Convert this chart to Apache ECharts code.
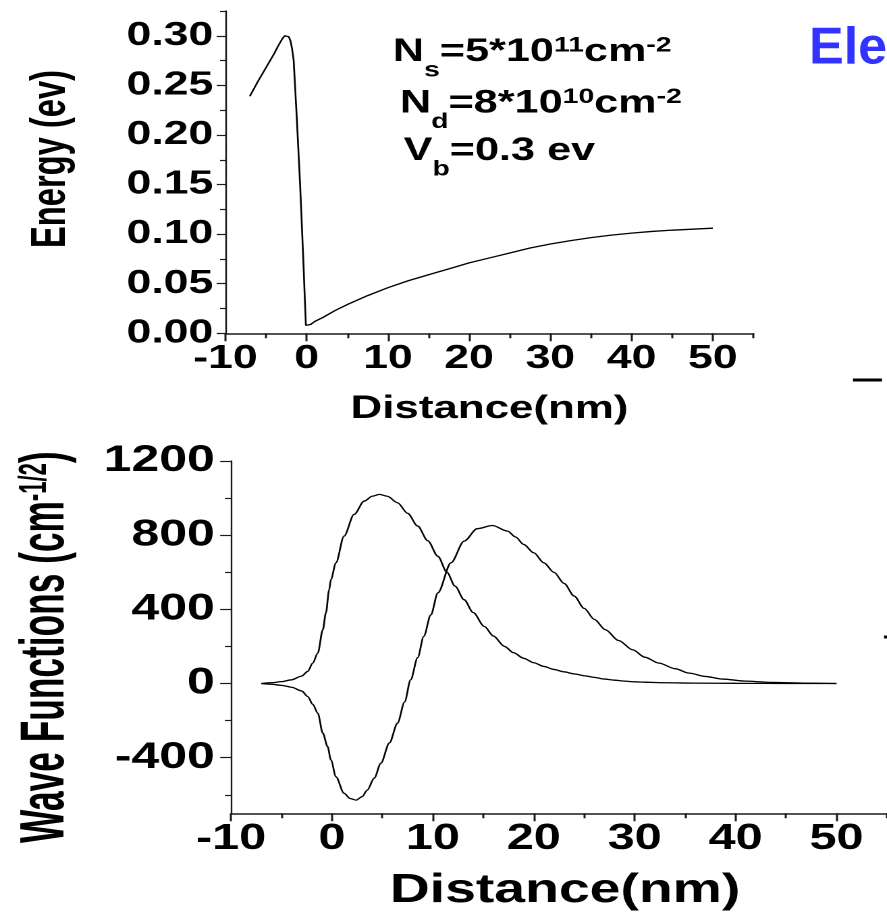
<!DOCTYPE html>
<html>
<head>
<meta charset="utf-8">
<script src="https://cdn.jsdelivr.net/npm/echarts@6/dist/echarts.min.js"></script>
<style>
html, body { margin: 0; padding: 0; background: #fff; overflow: hidden; }
#wrap { width: 887px; height: 915px; overflow: hidden; position: relative; background: #fff; }
/* the figure is drawn in a narrower frame and widened horizontally */
#chart { width: 657px; height: 915px; transform: scaleX(1.35); transform-origin: 0 0; }
</style>
</head>
<body>
<div id="wrap"><div id="chart"></div></div>
<script>
// Conduction-band energy across the barrier: distance (nm), energy (eV)
const energyX = [-7, -6, -5, -4, -3.5, -3, -2.7, -2.45, -2.2, -2.0, -1.8, -1.6, -1.2, -0.8, -0.45, -0.1, 0,
                 0.5, 1, 2, 3.5, 5, 7.5, 10, 12.5, 15, 17.5, 20, 22.5, 25, 27.5, 30, 32.5, 35, 37.5, 40, 42.5, 45, 47.5, 50];
const energyY = [0.239, 0.254, 0.268, 0.282, 0.290, 0.297, 0.300, 0.301, 0.299, 0.295, 0.287, 0.275, 0.214, 0.148, 0.081, 0.008, 0.006,
                 0.009, 0.012, 0.016, 0.023, 0.029, 0.038, 0.046, 0.053, 0.059, 0.065, 0.071, 0.076, 0.081, 0.086, 0.090, 0.0935, 0.0965,
                 0.099, 0.101, 0.1027, 0.104, 0.105, 0.106];

// Ground-state wave function: distance (nm), amplitude (cm^-1/2)
const psi1X = [-7, -6, -5, -4, -3, -2.4, -1.9, -1.4, -0.9, -0.6, -0.27, -0.1, 0.4, 1.2, 2.2, 3.2, 4, 4.7, 5.5, 6.5, 7.5, 8.5, 9.5,
               10.5, 11.4, 12.2, 13.1, 14, 15.1, 16, 17.1, 18, 19, 20, 21, 22, 23, 24, 25, 26, 27, 28, 29, 30, 31, 33, 36, 40, 45, 50];
const psi1Y = [0, 4, 10, 20, 40, 65, 110, 164, 290, 380, 506, 561, 651, 795, 912, 984, 1010, 1020, 1010, 975, 918, 849, 770,
               686, 600, 525, 452, 383, 308, 256, 200, 166, 136, 112, 92, 76, 63, 52, 42, 33, 24, 18, 13, 9, 7, 4, 2, 1, 0.3, 0];

// First excited-state wave function: distance (nm), amplitude (cm^-1/2)
const psi2X = [-7, -6, -5, -4, -3, -2.4, -1.9, -1.4, -0.9, -0.43, -0.1, 0.4, 1.2, 1.8, 2.4, 3, 3.5, 4.2, 4.85, 5.7, 6.5, 7.2,
               7.8, 8.5, 9.1, 9.8, 10.5, 11.8, 13.1, 14.4, 15.9, 17.4, 18.2, 19, 20, 21, 22, 23, 24, 25, 26, 27.1, 28.4, 29.8,
               31, 32.4, 34, 35.4, 37, 38.7, 41, 43.6, 47, 50];
const psi2Y = [0, -4, -10, -20, -40, -70, -112, -160, -268, -340, -412, -503, -592, -620, -629, -610, -575, -510, -430, -320, -214, -100,
               20, 140, 254, 370, 489, 651, 768, 835, 852, 822, 790, 750, 705, 651, 600, 540, 472, 405, 346, 290, 232, 182,
               142, 110, 80, 56, 38, 24, 13, 6, 2, 0];

// Axis ticks
const distanceTicks = [-10, 0, 10, 20, 30, 40, 50];
const distanceMinor = [-5, 5, 15, 25, 35, 45, 55];
const energyTicks = [0, 0.05, 0.10, 0.15, 0.20, 0.25, 0.30];
const energyMinor = [0.025, 0.075, 0.125, 0.175, 0.225, 0.275, 0.325];
const waveTicks = [-400, 0, 400, 800, 1200];
const waveMinor = [-600, -200, 200, 600, 1000];

// Texts
const xTitle = 'Distance(nm)';
const energyTitle = 'Energy (ev)';
const waveTitle = 'Wave Functions (cm{sup|-1/2})';
const noteLines = ['N{sub|s}=5*10{sup|11}cm{sup|-2}', 'N{sub|d}=8*10{sup|10}cm{sup|-2}', 'V{sub|b}=0.3 ev'];
const headText = 'Ele';

const FAMILY = '"Liberation Sans", Arial, Helvetica, sans-serif';
const AXIS_COLOR = '#1a1a1a';
const SX = 1.35; // horizontal widening of the frame

function pairs(xs, ys) { return xs.map((x, i) => [x, ys[i]]); }
function bold(size) { return 'bold ' + size + 'px ' + FAMILY; }

function majorAxis(gridIndex, pos, min, max, ticks, tickLen, lineW, labelSize, margin, fmt) {
  return {
    type: 'value', gridIndex, position: pos, min, max,
    axisLine: { show: true, onZero: false, lineStyle: { color: AXIS_COLOR, width: lineW } },
    axisTick: { show: true, inside: false, length: tickLen, customValues: ticks,
                lineStyle: { color: AXIS_COLOR, width: lineW } },
    axisLabel: { show: true, customValues: ticks, margin, color: '#000',
                 fontFamily: FAMILY, fontWeight: 'bold', fontSize: labelSize,
                 formatter: fmt || (v => String(v)) },
    splitLine: { show: false }, minorTick: { show: false }
  };
}
function minorAxis(gridIndex, pos, min, max, ticks, tickLen, lineW) {
  return {
    type: 'value', gridIndex, position: pos, min, max,
    axisLine: { show: false, onZero: false },
    axisTick: { show: true, inside: false, length: tickLen, customValues: ticks,
                lineStyle: { color: AXIS_COLOR, width: lineW } },
    axisLabel: { show: false }, splitLine: { show: false }
  };
}

const chart = echarts.init(document.getElementById('chart'), null, { renderer: 'canvas', devicePixelRatio: 2 });

const xTop = majorAxis(0, 'bottom', -10, 55, distanceTicks, 8, 1.5, 33, 9);
Object.assign(xTop, { name: xTitle, nameLocation: 'middle', nameGap: 59,
  nameTextStyle: { color: '#000', fontFamily: FAMILY, fontWeight: 'bold', fontSize: 32.5 } });
const xBot = majorAxis(1, 'bottom', -10, 55, distanceTicks, 8, 1.5, 36, 8);
Object.assign(xBot, { name: xTitle, nameLocation: 'middle', nameGap: 57,
  nameTextStyle: { color: '#000', fontFamily: FAMILY, fontWeight: 'bold', fontSize: 41, padding: [0, 0, 0, 9] } });

const option = {
  animation: false,
  backgroundColor: '#fff',
  grid: [
    { left: 167, right: 98.9, top: 11, bottom: 581.7, containLabel: false, outerBoundsMode: 'none' },
    { left: 171.1, right: 0, top: 461, bottom: 101.7, containLabel: false, outerBoundsMode: 'none' }
  ],
  xAxis: [
    xTop,
    minorAxis(0, 'bottom', -10, 55, distanceMinor, 5, 1.5),
    xBot,
    minorAxis(1, 'bottom', -10, 55, distanceMinor, 5, 1.5)
  ],
  yAxis: [
    majorAxis(0, 'left', 0, 0.325, energyTicks, 6.5, 1.2, 33, 9, v => v.toFixed(2)),
    minorAxis(0, 'left', 0, 0.325, energyMinor, 4, 1.2),
    majorAxis(1, 'left', -700, 1200, waveTicks, 8, 1.2, 37, 12),
    minorAxis(1, 'left', -700, 1200, waveMinor, 4.5, 1.2)
  ],
  series: [
    { type: 'line', xAxisIndex: 0, yAxisIndex: 0, data: pairs(energyX, energyY),
      showSymbol: false, smooth: false, lineStyle: { color: '#000', width: 1.3 } },
    { type: 'line', xAxisIndex: 2, yAxisIndex: 2, data: pairs(psi1X, psi1Y),
      showSymbol: false, smooth: 0.3, smoothMonotone: 'x', lineStyle: { color: '#000', width: 1.3 } },
    { type: 'line', xAxisIndex: 2, yAxisIndex: 2, data: pairs(psi2X, psi2Y),
      showSymbol: false, smooth: 0.3, smoothMonotone: 'x', lineStyle: { color: '#000', width: 1.3 } }
  ],
  graphic: [
    // vertical axis titles, read bottom to top, starting at their lower end
    { type: 'text', x: 38, y: 248, rotation: Math.PI / 2, scaleY: 1.1,
      style: { text: energyTitle, font: bold(32.7), fill: '#000',
               align: 'left', verticalAlign: 'middle', textAlign: 'left', textVerticalAlign: 'middle' } },
    { type: 'text', x: 34, y: 843, rotation: Math.PI / 2, scaleY: 1.32,
      style: { text: waveTitle, font: bold(35.3), fill: '#000', lineHeight: 54,
               align: 'left', verticalAlign: 'middle', textAlign: 'left', textVerticalAlign: 'middle',
               rich: { sup: { font: bold(22), fill: '#000', verticalAlign: 'top', padding: [10, 0, 0, 0], lineHeight: 54 } } } },
    ...noteLines.map((t, i) => ({
      type: 'text', x: [291.0, 296.3, 299.0][i], y: [22, 73.5, 121][i],
      style: { text: t, font: bold(32), fill: '#000', lineHeight: 60,
               align: 'left', verticalAlign: 'top', textAlign: 'left', textVerticalAlign: 'top',
               rich: {
                 sub: { font: bold(21), fill: '#000', verticalAlign: 'top', padding: [38, 0, 0, 0], lineHeight: 60 },
                 sup: { font: bold(21), fill: '#000', verticalAlign: 'top', padding: [13, 0, 0, 0], lineHeight: 60 }
               } }
    })),
    { type: 'text', x: 809 / SX, y: 49, scaleX: 1 / SX,
      style: { text: headText, font: bold(52), fill: '#3333ff',
               align: 'left', verticalAlign: 'middle', textAlign: 'left', textVerticalAlign: 'middle' } },
    { type: 'line', shape: { x1: 853 / SX, y1: 380, x2: 882 / SX, y2: 380 },
      style: { stroke: '#000', lineWidth: 3 } },
    { type: 'rect', shape: { x: 884 / SX, y: 635.5, width: 2.2, height: 3 },
      style: { fill: '#000' } }
  ]
};

chart.setOption(option);
</script>
</body>
</html>
